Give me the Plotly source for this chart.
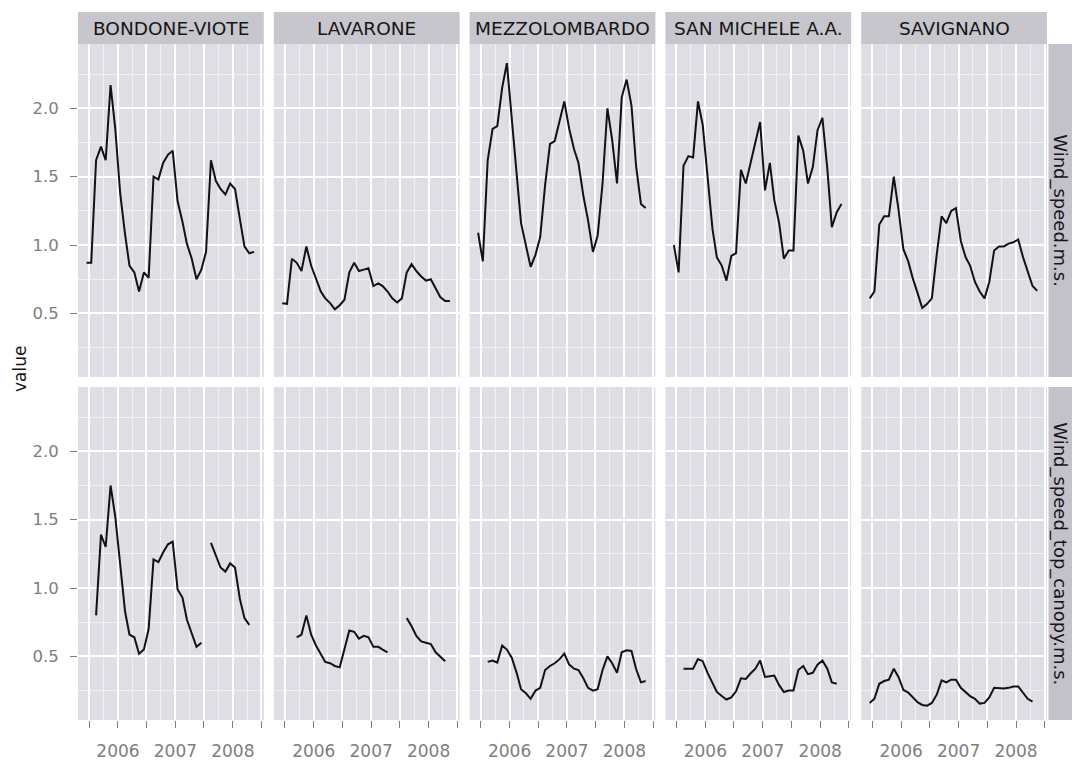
import datetime as dt
import plotly.graph_objects as go
from plotly.subplots import make_subplots

# Monthly means (mid-month), June 2005 - May 2008
months = [dt.date(2005 + (5 + k) // 12, (5 + k) % 12 + 1, 15) for k in range(36)]

stations = ["BONDONE-VIOTE", "LAVARONE", "MEZZOLOMBARDO", "SAN MICHELE A.A.", "SAVIGNANO"]
variables = ["Wind_speed.m.s.", "Wind_speed_top_canopy.m.s."]

bondone_speed = [0.87, 0.87, 1.62, 1.72, 1.62, 2.17, 1.85, 1.38, 1.08, 0.85, 0.80, 0.66,
                 0.80, 0.76, 1.50, 1.48, 1.60, 1.66, 1.69, 1.32, 1.17, 1.01, 0.90, 0.75,
                 0.82, 0.95, 1.62, 1.47, 1.41, 1.37, 1.45, 1.41, 1.19, 0.99, 0.94, 0.95]
bondone_canopy = [None, None, 0.80, 1.39, 1.30, 1.75, 1.52, 1.15, 0.83, 0.66, 0.64, 0.52,
                  0.55, 0.70, 1.21, 1.19, 1.26, 1.32, 1.34, 0.99, 0.93, 0.77, 0.67, 0.57,
                  0.60, None, 1.33, 1.24, 1.15, 1.12, 1.18, 1.15, 0.92, 0.78, 0.73, None]

lavarone_speed = [0.575, 0.57, 0.90, 0.87, 0.81, 0.99, 0.85, 0.75, 0.66, 0.61, 0.575, 0.53,
                  0.56, 0.60, 0.80, 0.87, 0.81, 0.82, 0.83, 0.70, 0.72, 0.70, 0.66, 0.61,
                  0.58, 0.61, 0.80, 0.86, 0.81, 0.77, 0.74, 0.75, 0.68, 0.62, 0.59, 0.59]
lavarone_canopy = [None, None, None, 0.64, 0.66, 0.80, 0.66, 0.58, 0.52, 0.46, 0.45, 0.43,
                   0.42, 0.55, 0.69, 0.68, 0.63, 0.65, 0.64, 0.57, 0.57, 0.55, 0.53, None,
                   None, None, 0.78, 0.72, 0.65, 0.61, 0.60, 0.59, 0.53, 0.50, 0.465, None]

mezzolombardo_speed = [1.09, 0.88, 1.62, 1.85, 1.87, 2.15, 2.33, 1.90, 1.52, 1.16, 1.00, 0.84,
                       0.93, 1.06, 1.44, 1.74, 1.76, 1.92, 2.05, 1.85, 1.70, 1.60, 1.36, 1.18,
                       0.95, 1.07, 1.45, 2.00, 1.77, 1.45, 2.08, 2.21, 2.02, 1.58, 1.30, 1.27]
mezzolombardo_canopy = [None, None, 0.46, 0.47, 0.455, 0.58, 0.55, 0.49, 0.38, 0.26, 0.23, 0.19,
                        0.25, 0.27, 0.40, 0.43, 0.45, 0.48, 0.52, 0.44, 0.41, 0.40, 0.34, 0.27,
                        0.25, 0.26, 0.40, 0.50, 0.45, 0.38, 0.53, 0.545, 0.54, 0.41, 0.31, 0.32]

sanmichele_speed = [1.00, 0.80, 1.58, 1.65, 1.64, 2.05, 1.88, 1.52, 1.12, 0.91, 0.85, 0.74,
                    0.92, 0.94, 1.55, 1.45, 1.60, 1.74, 1.90, 1.40, 1.60, 1.33, 1.16, 0.90,
                    0.96, 0.96, 1.80, 1.69, 1.45, 1.57, 1.84, 1.93, 1.56, 1.13, 1.24, 1.30]
sanmichele_canopy = [None, None, 0.41, 0.41, 0.41, 0.48, 0.465, 0.38, 0.31, 0.24, 0.21, 0.185,
                     0.20, 0.245, 0.34, 0.335, 0.375, 0.41, 0.47, 0.35, 0.355, 0.36, 0.29, 0.24,
                     0.25, 0.25, 0.40, 0.43, 0.37, 0.38, 0.44, 0.47, 0.41, 0.31, 0.30, None]

savignano_speed = [0.61, 0.66, 1.15, 1.21, 1.21, 1.50, 1.26, 0.97, 0.88, 0.76, 0.65, 0.54,
                   0.57, 0.61, 0.93, 1.21, 1.16, 1.25, 1.27, 1.03, 0.91, 0.85, 0.73, 0.66,
                   0.61, 0.73, 0.96, 0.99, 0.99, 1.01, 1.02, 1.04, 0.91, 0.80, 0.70, 0.665]
savignano_canopy = [0.16, 0.19, 0.30, 0.32, 0.33, 0.41, 0.35, 0.255, 0.235, 0.20, 0.165, 0.145,
                    0.14, 0.16, 0.22, 0.325, 0.31, 0.33, 0.33, 0.27, 0.24, 0.21, 0.19, 0.155,
                    0.16, 0.20, 0.27, 0.265, 0.265, 0.27, 0.28, 0.28, 0.23, 0.19, 0.17, None]

speed_rows = [bondone_speed, lavarone_speed, mezzolombardo_speed, sanmichele_speed, savignano_speed]
canopy_rows = [bondone_canopy, lavarone_canopy, mezzolombardo_canopy, sanmichele_canopy, savignano_canopy]

x_tick_vals = ["2005-07-01", "2006-01-01", "2006-07-01", "2007-01-01",
               "2007-07-01", "2008-01-01", "2008-07-01"]
x_tick_text = ["", "2006", "", "2007", "", "2008", ""]
x_minor_vals = ["2005-10-01", "2006-04-01", "2006-10-01", "2007-04-01",
                "2007-10-01", "2008-04-01"]
y_tick_vals = [0.5, 1.0, 1.5, 2.0]
y_tick_text = ["0.5", "1.0", "1.5", "2.0"]
y_minor_vals = [0.25, 0.75, 1.25, 1.75, 2.25]

W, H = 1072, 761
ML, MR, MT, MB = 78, 25, 44, 41
PW, PH = W - ML - MR, H - MT - MB
GAP = 10

PANEL_BG = "#DFDEE5"
STRIP_BG = "#C8C6CD"
GRID_MAJOR = "#FFFFFF"
GRID_MINOR = "#F1F0F4"
TICK_GREY = "#7E7E7E"
FONT = "DejaVu Sans"

fig = make_subplots(rows=2, cols=5, horizontal_spacing=GAP / PW, vertical_spacing=GAP / PH)

for c in range(5):
    for r, series in enumerate([speed_rows[c], canopy_rows[c]]):
        fig.add_trace(
            go.Scatter(x=months, y=series, mode="lines", connectgaps=False,
                       line=dict(color="#121212", width=2), showlegend=False,
                       hoverinfo="skip"),
            row=r + 1, col=c + 1)

for r in (1, 2):
    for c in range(1, 6):
        bottom = r == 2
        fig.update_xaxes(
            type="date", range=["2005-04-22", "2008-07-16"], automargin=False,
            tickmode="array", tickvals=x_tick_vals, ticktext=x_tick_text,
            showticklabels=bottom, ticks="outside" if bottom else "",
            ticklen=7, tickwidth=1.4, tickcolor=TICK_GREY,
            tickfont=dict(family=FONT, size=17, color=TICK_GREY),
            ticklabelstandoff=9,
            showgrid=True, gridcolor=GRID_MAJOR, gridwidth=1.7,
            minor=dict(tickvals=x_minor_vals, showgrid=True, gridcolor=GRID_MINOR,
                       gridwidth=1, ticks=""),
            zeroline=False, showline=False,
            row=r, col=c)
        first = c == 1
        fig.update_yaxes(
            range=[0.035, 2.47], automargin=False, tickmode="array",
            tickvals=y_tick_vals, ticktext=y_tick_text,
            showticklabels=first, ticks="outside" if first else "",
            ticklen=7, tickwidth=1.4, tickcolor=TICK_GREY,
            tickfont=dict(family=FONT, size=16.5, color=TICK_GREY),
            ticklabelstandoff=8,
            showgrid=True, gridcolor=GRID_MAJOR, gridwidth=1.7,
            minor=dict(tickvals=y_minor_vals, showgrid=True, gridcolor=GRID_MINOR,
                       gridwidth=1, ticks=""),
            zeroline=False, showline=False,
            row=r, col=c)

shapes = []
annotations = []

# station strips across the top
strip_h = 32 / PH
for c in range(5):
    dom = fig.layout["xaxis" if c == 0 else f"xaxis{c + 1}"].domain
    shapes.append(dict(type="rect", xref="paper", yref="paper",
                       x0=dom[0], x1=dom[1], y0=1, y1=1 + strip_h,
                       fillcolor=STRIP_BG, line=dict(width=0), layer="below"))
    annotations.append(dict(text=stations[c], xref="paper", yref="paper",
                            x=(dom[0] + dom[1]) / 2, y=1 + strip_h / 2,
                            showarrow=False, xanchor="center", yanchor="middle",
                            font=dict(family=FONT, size=18.5, color="#151515")))

# variable strips down the right side
x0 = 1 + 1.5 / PW
x1 = 1 + MR / PW
for r in range(2):
    dom = fig.layout["yaxis" if r == 0 else "yaxis6"].domain
    shapes.append(dict(type="rect", xref="paper", yref="paper",
                       x0=x0, x1=x1, y0=dom[0], y1=dom[1],
                       fillcolor="#C3C1C9", line=dict(width=0), layer="below"))
    annotations.append(dict(text=variables[r], xref="paper", yref="paper",
                            x=(x0 + x1) / 2, y=(dom[0] + dom[1]) / 2,
                            textangle=90, showarrow=False,
                            xanchor="center", yanchor="middle",
                            font=dict(family=FONT, size=18, color="#151515")))

annotations.append(dict(text="value", xref="paper", yref="paper", x=0, y=0.5,
                        xshift=-58, yshift=13, textangle=-90, showarrow=False,
                        xanchor="center", yanchor="middle",
                        font=dict(family=FONT, size=17, color="#151515")))

fig.update_layout(
    width=W, height=H,
    margin=dict(l=ML, r=MR, t=MT, b=MB, autoexpand=False),
    paper_bgcolor="#FFFFFF", plot_bgcolor=PANEL_BG,
    shapes=shapes, annotations=annotations,
    showlegend=False,
    font=dict(family=FONT),
)

fig.write_html("out.html")
